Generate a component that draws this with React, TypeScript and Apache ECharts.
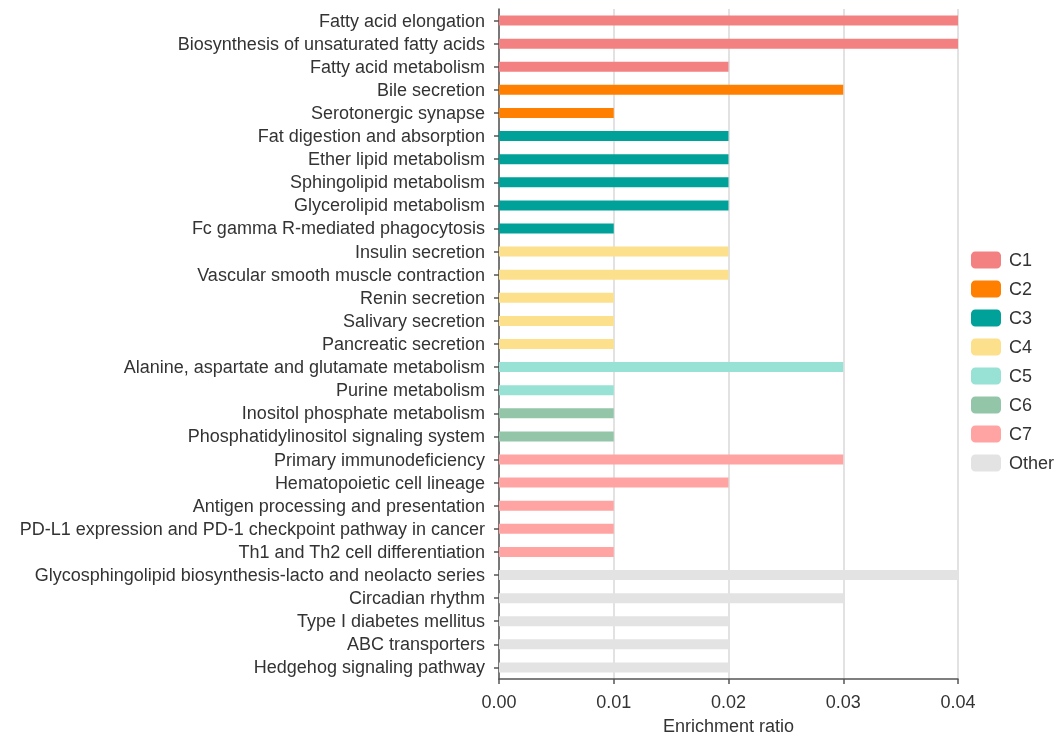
import React, { useEffect, useRef } from "react";
import * as echarts from "echarts";

const categories = [
  "Fatty acid elongation",
  "Biosynthesis of unsaturated fatty acids",
  "Fatty acid metabolism",
  "Bile secretion",
  "Serotonergic synapse",
  "Fat digestion and absorption",
  "Ether lipid metabolism",
  "Sphingolipid metabolism",
  "Glycerolipid metabolism",
  "Fc gamma R-mediated phagocytosis",
  "Insulin secretion",
  "Vascular smooth muscle contraction",
  "Renin secretion",
  "Salivary secretion",
  "Pancreatic secretion",
  "Alanine, aspartate and glutamate metabolism",
  "Purine metabolism",
  "Inositol phosphate metabolism",
  "Phosphatidylinositol signaling system",
  "Primary immunodeficiency",
  "Hematopoietic cell lineage",
  "Antigen processing and presentation",
  "PD-L1 expression and PD-1 checkpoint pathway in cancer",
  "Th1 and Th2 cell differentiation",
  "Glycosphingolipid biosynthesis-lacto and neolacto series",
  "Circadian rhythm",
  "Type I diabetes mellitus",
  "ABC transporters",
  "Hedgehog signaling pathway",
];

const values = [
  0.04, 0.04, 0.02, 0.03, 0.01, 0.02, 0.02, 0.02, 0.02, 0.01, 0.02, 0.02, 0.01,
  0.01, 0.01, 0.03, 0.01, 0.01, 0.01, 0.03, 0.02, 0.01, 0.01, 0.01, 0.04, 0.03,
  0.02, 0.02, 0.02,
];

const groups = [
  "C1", "C1", "C1", "C2", "C2", "C3", "C3", "C3", "C3", "C3", "C4", "C4", "C4",
  "C4", "C4", "C5", "C5", "C6", "C6", "C7", "C7", "C7", "C7", "C7", "Other",
  "Other", "Other", "Other", "Other",
];

const groupNames = ["C1", "C2", "C3", "C4", "C5", "C6", "C7", "Other"];
const groupColors = [
  "#F38181",
  "#FF7F00",
  "#00A199",
  "#FCE08C",
  "#97E2D4",
  "#93C6A9",
  "#FFA4A2",
  "#E3E3E3",
];

const xTicks = [0, 0.01, 0.02, 0.03, 0.04];

export default function App() {
  const ref = useRef<HTMLDivElement>(null);
  useEffect(() => {
    if (!ref.current) return;
    const chart = echarts.init(ref.current, null, { renderer: "svg" });
    const font = "'Liberation Sans', Arial, Helvetica, sans-serif";
    const fs = 18;
    const series = groupNames.map((g, gi) => ({
      name: g,
      type: "bar",
      stack: "all",
      barWidth: 10,
      itemStyle: { color: groupColors[gi] },
      data: values.map((v, i) => (groups[i] === g ? v : "-")),
    }));
    chart.setOption({
      animation: false,
      textStyle: { fontFamily: font },
      grid: {
        left: 499,
        right: 99,
        top: 9,
        bottom: 59,
        containLabel: false,
        outerBoundsMode: "none",
      },
      legend: {
        orient: "vertical",
        left: 971,
        top: 251,
        padding: 0,
        itemWidth: 30,
        itemHeight: 17,
        itemGap: 11,
        icon: "roundRect",
        data: groupNames,
        textStyle: { fontSize: fs, color: "#333", fontFamily: font, padding: [0, 0, 0, 3] },
      },
      xAxis: {
        type: "value",
        min: xTicks[0],
        max: xTicks[xTicks.length - 1],
        interval: 0.01,
        name: "Enrichment ratio",
        nameLocation: "middle",
        nameGap: 38,
        nameTextStyle: { fontSize: fs, color: "#333", fontFamily: font },
        axisLine: { show: true, lineStyle: { color: "#555", width: 1.5 } },
        axisTick: { show: true, length: 5, lineStyle: { color: "#555", width: 1.5 } },
        axisLabel: {
          fontSize: fs,
          color: "#333",
          margin: 14,
          fontFamily: font,
          formatter: (v: number) => v.toFixed(2),
        },
        splitLine: { show: true, lineStyle: { color: "#d9d9d9", width: 1.5 } },
      },
      yAxis: {
        type: "category",
        data: categories,
        inverse: true,
        axisLine: { show: true, lineStyle: { color: "#555", width: 1.5 } },
        axisTick: { show: true, length: 5, alignWithLabel: true, lineStyle: { color: "#555", width: 1.5 } },
        axisLabel: { fontSize: fs, color: "#333", margin: 14, fontFamily: font, interval: 0 },
      },
      series,
    });
    return () => chart.dispose();
  }, []);
  return (
    <div
      ref={ref}
      style={{ position: "fixed", left: 0, top: 0, width: 1057, height: 738 }}
    />
  );
}
